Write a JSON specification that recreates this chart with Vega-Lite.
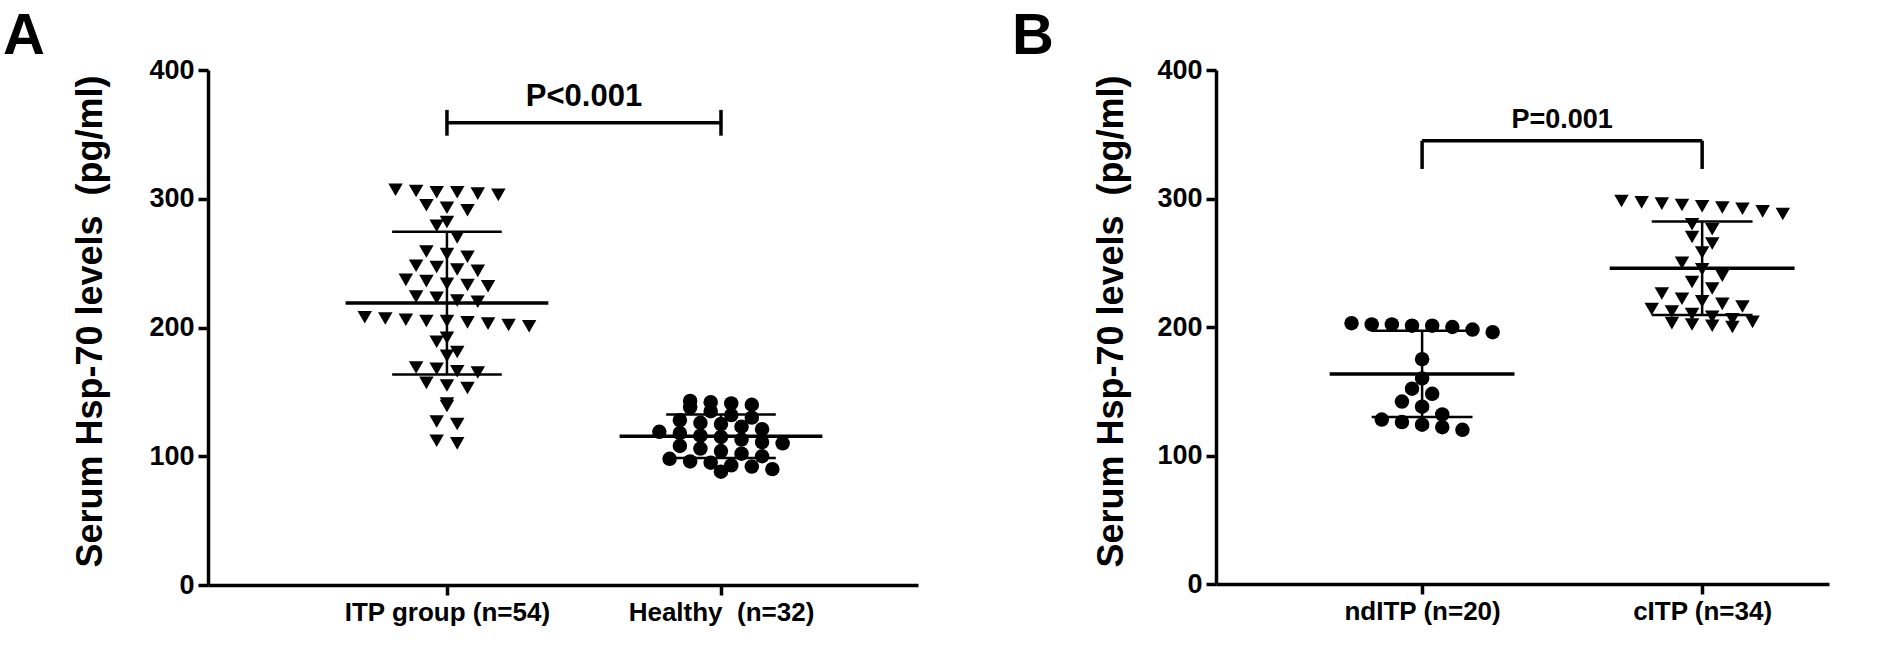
{
  "$schema": "https://vega.github.io/schema/vega-lite/v6.json",
  "background": "white",
  "padding": {"left": 2, "top": 8, "right": 4, "bottom": 4},
  "spacing": 93,
  "resolve": {"scale": {"shape": "independent"}},
  "config": {
    "font": "Liberation Sans",
    "view": {"stroke": null},
    "axis": {
      "grid": false,
      "domainColor": "black",
      "domainWidth": 3.5,
      "tickColor": "black",
      "tickWidth": 3.5,
      "tickSize": 10,
      "labelFont": "Liberation Sans",
      "labelFontSize": 27,
      "labelFontWeight": "bold",
      "labelColor": "black",
      "labelPadding": 4,
      "labelFlush": false,
      "labelOverlap": false,
      "labelLimit": 0,
      "titleFont": "Liberation Sans",
      "titleFontSize": 36,
      "titleFontWeight": "bold",
      "titleColor": "black"
    },
    "axisX": {"labelFontSize": 26}
  },
  "datasets": {
    "A": [
      {"group": "ITP group (n=54)", "value": 307}, {"group": "ITP group (n=54)", "value": 306}, {"group": "ITP group (n=54)", "value": 305},
      {"group": "ITP group (n=54)", "value": 305}, {"group": "ITP group (n=54)", "value": 304}, {"group": "ITP group (n=54)", "value": 303},
      {"group": "ITP group (n=54)", "value": 295}, {"group": "ITP group (n=54)", "value": 293}, {"group": "ITP group (n=54)", "value": 291},
      {"group": "ITP group (n=54)", "value": 282}, {"group": "ITP group (n=54)", "value": 279}, {"group": "ITP group (n=54)", "value": 270},
      {"group": "ITP group (n=54)", "value": 259}, {"group": "ITP group (n=54)", "value": 257}, {"group": "ITP group (n=54)", "value": 255},
      {"group": "ITP group (n=54)", "value": 248}, {"group": "ITP group (n=54)", "value": 247}, {"group": "ITP group (n=54)", "value": 245},
      {"group": "ITP group (n=54)", "value": 244}, {"group": "ITP group (n=54)", "value": 237}, {"group": "ITP group (n=54)", "value": 236},
      {"group": "ITP group (n=54)", "value": 234}, {"group": "ITP group (n=54)", "value": 233}, {"group": "ITP group (n=54)", "value": 232},
      {"group": "ITP group (n=54)", "value": 224}, {"group": "ITP group (n=54)", "value": 223}, {"group": "ITP group (n=54)", "value": 221},
      {"group": "ITP group (n=54)", "value": 220}, {"group": "ITP group (n=54)", "value": 208}, {"group": "ITP group (n=54)", "value": 207},
      {"group": "ITP group (n=54)", "value": 206}, {"group": "ITP group (n=54)", "value": 205}, {"group": "ITP group (n=54)", "value": 205},
      {"group": "ITP group (n=54)", "value": 204}, {"group": "ITP group (n=54)", "value": 203}, {"group": "ITP group (n=54)", "value": 202},
      {"group": "ITP group (n=54)", "value": 201}, {"group": "ITP group (n=54)", "value": 192}, {"group": "ITP group (n=54)", "value": 189},
      {"group": "ITP group (n=54)", "value": 181}, {"group": "ITP group (n=54)", "value": 178}, {"group": "ITP group (n=54)", "value": 169},
      {"group": "ITP group (n=54)", "value": 168}, {"group": "ITP group (n=54)", "value": 166}, {"group": "ITP group (n=54)", "value": 165},
      {"group": "ITP group (n=54)", "value": 157}, {"group": "ITP group (n=54)", "value": 155}, {"group": "ITP group (n=54)", "value": 153},
      {"group": "ITP group (n=54)", "value": 141}, {"group": "ITP group (n=54)", "value": 139}, {"group": "ITP group (n=54)", "value": 127},
      {"group": "ITP group (n=54)", "value": 125}, {"group": "ITP group (n=54)", "value": 112}, {"group": "ITP group (n=54)", "value": 110},
      {"group": "Healthy\u00a0 (n=32)", "value": 143}, {"group": "Healthy\u00a0 (n=32)", "value": 142}, {"group": "Healthy\u00a0 (n=32)", "value": 141},
      {"group": "Healthy\u00a0 (n=32)", "value": 140}, {"group": "Healthy\u00a0 (n=32)", "value": 138}, {"group": "Healthy\u00a0 (n=32)", "value": 135},
      {"group": "Healthy\u00a0 (n=32)", "value": 132}, {"group": "Healthy\u00a0 (n=32)", "value": 130}, {"group": "Healthy\u00a0 (n=32)", "value": 128},
      {"group": "Healthy\u00a0 (n=32)", "value": 126}, {"group": "Healthy\u00a0 (n=32)", "value": 125}, {"group": "Healthy\u00a0 (n=32)", "value": 123},
      {"group": "Healthy\u00a0 (n=32)", "value": 121}, {"group": "Healthy\u00a0 (n=32)", "value": 119}, {"group": "Healthy\u00a0 (n=32)", "value": 118},
      {"group": "Healthy\u00a0 (n=32)", "value": 116}, {"group": "Healthy\u00a0 (n=32)", "value": 115}, {"group": "Healthy\u00a0 (n=32)", "value": 113},
      {"group": "Healthy\u00a0 (n=32)", "value": 111}, {"group": "Healthy\u00a0 (n=32)", "value": 110}, {"group": "Healthy\u00a0 (n=32)", "value": 108},
      {"group": "Healthy\u00a0 (n=32)", "value": 106}, {"group": "Healthy\u00a0 (n=32)", "value": 104}, {"group": "Healthy\u00a0 (n=32)", "value": 102},
      {"group": "Healthy\u00a0 (n=32)", "value": 100}, {"group": "Healthy\u00a0 (n=32)", "value": 98}, {"group": "Healthy\u00a0 (n=32)", "value": 96},
      {"group": "Healthy\u00a0 (n=32)", "value": 95}, {"group": "Healthy\u00a0 (n=32)", "value": 93}, {"group": "Healthy\u00a0 (n=32)", "value": 92},
      {"group": "Healthy\u00a0 (n=32)", "value": 90}, {"group": "Healthy\u00a0 (n=32)", "value": 88}
    ],
    "B": [
      {"group": "ndITP (n=20)", "value": 203}, {"group": "ndITP (n=20)", "value": 202}, {"group": "ndITP (n=20)", "value": 202},
      {"group": "ndITP (n=20)", "value": 201}, {"group": "ndITP (n=20)", "value": 201}, {"group": "ndITP (n=20)", "value": 200},
      {"group": "ndITP (n=20)", "value": 198}, {"group": "ndITP (n=20)", "value": 196}, {"group": "ndITP (n=20)", "value": 175},
      {"group": "ndITP (n=20)", "value": 160}, {"group": "ndITP (n=20)", "value": 152}, {"group": "ndITP (n=20)", "value": 148},
      {"group": "ndITP (n=20)", "value": 142}, {"group": "ndITP (n=20)", "value": 138}, {"group": "ndITP (n=20)", "value": 132},
      {"group": "ndITP (n=20)", "value": 128}, {"group": "ndITP (n=20)", "value": 126}, {"group": "ndITP (n=20)", "value": 124},
      {"group": "ndITP (n=20)", "value": 122}, {"group": "ndITP (n=20)", "value": 120},
      {"group": "cITP (n=34)", "value": 298}, {"group": "cITP (n=34)", "value": 297}, {"group": "cITP (n=34)", "value": 296},
      {"group": "cITP (n=34)", "value": 295}, {"group": "cITP (n=34)", "value": 294}, {"group": "cITP (n=34)", "value": 293},
      {"group": "cITP (n=34)", "value": 292}, {"group": "cITP (n=34)", "value": 290}, {"group": "cITP (n=34)", "value": 288},
      {"group": "cITP (n=34)", "value": 280}, {"group": "cITP (n=34)", "value": 276}, {"group": "cITP (n=34)", "value": 270},
      {"group": "cITP (n=34)", "value": 265}, {"group": "cITP (n=34)", "value": 258}, {"group": "cITP (n=34)", "value": 250},
      {"group": "cITP (n=34)", "value": 245}, {"group": "cITP (n=34)", "value": 240}, {"group": "cITP (n=34)", "value": 235},
      {"group": "cITP (n=34)", "value": 230}, {"group": "cITP (n=34)", "value": 226}, {"group": "cITP (n=34)", "value": 222},
      {"group": "cITP (n=34)", "value": 220}, {"group": "cITP (n=34)", "value": 218}, {"group": "cITP (n=34)", "value": 216},
      {"group": "cITP (n=34)", "value": 214}, {"group": "cITP (n=34)", "value": 212}, {"group": "cITP (n=34)", "value": 210},
      {"group": "cITP (n=34)", "value": 208}, {"group": "cITP (n=34)", "value": 206}, {"group": "cITP (n=34)", "value": 204},
      {"group": "cITP (n=34)", "value": 203}, {"group": "cITP (n=34)", "value": 202}, {"group": "cITP (n=34)", "value": 201},
      {"group": "cITP (n=34)", "value": 200}
    ]
  },
  "hconcat": [
    {
      "title": {"text": "A", "anchor": "start", "frame": "bounds", "fontSize": 58, "fontWeight": "bold", "font": "Liberation Sans", "color": "black", "dx": -70, "offset": -10},
      "width": 710,
      "height": 515,
      "data": {"name": "A"},
      "layer": [
        {
          "transform": [
            {"calculate": "datum.group === 'ITP group (n=54)' ? 1 : 2", "as": "gx"},
            {"bin": {"step": 10, "anchor": 0, "extent": [0, 410]}, "field": "value", "as": "vb"},
            {"window": [{"op": "row_number", "as": "idx"}, {"op": "count", "as": "n"}], "groupby": ["group", "vb"], "sort": [{"field": "value", "order": "descending"}], "frame": [null, null]},
            {"calculate": "datum.gx + (datum.idx - (datum.n + 1) / 2) * 0.075", "as": "xpos"}
          ],
          "mark": {"type": "point", "filled": true, "color": "black", "opacity": 1, "size": 210},
          "encoding": {
            "x": {"field": "xpos", "type": "quantitative", "scale": {"domain": [0.128, 2.719], "nice": false, "zero": false},
              "axis": {"values": [1, 2], "title": null, "labelExpr": "datum.value == 1 ? 'ITP group (n=54)' : 'Healthy\u00a0 (n=32)'"}},
            "y": {"field": "value", "type": "quantitative", "scale": {"domain": [0, 400], "nice": false},
              "axis": {"values": [0, 100, 200, 300, 400], "title": "Serum Hsp-70 levels\u00a0 (pg/ml)", "titlePadding": 39, "titleY": 251}},
            "shape": {"field": "group", "type": "nominal", "scale": {"domain": ["ITP group (n=54)", "Healthy\u00a0 (n=32)"], "range": ["triangle-down", "circle"]}, "legend": null}
          }
        },
        {
          "transform": [
            {"calculate": "datum.group === 'ITP group (n=54)' ? 1 : 2", "as": "gx"},
            {"aggregate": [{"op": "mean", "field": "value", "as": "m"}, {"op": "stdev", "field": "value", "as": "sd"}], "groupby": ["gx"]},
            {"calculate": "datum.m - datum.sd", "as": "lo"},
            {"calculate": "datum.m + datum.sd", "as": "hi"},
            {"calculate": "datum.gx - 0.37", "as": "ml"},
            {"calculate": "datum.gx + 0.37", "as": "mr"},
            {"calculate": "datum.gx - 0.2", "as": "cl"},
            {"calculate": "datum.gx + 0.2", "as": "cr"}
          ],
          "layer": [
            {"mark": {"type": "rule", "color": "black", "strokeWidth": 3.5},
              "encoding": {"x": {"field": "ml", "type": "quantitative"}, "x2": {"field": "mr"}, "y": {"field": "m", "type": "quantitative"}}},
            {"mark": {"type": "rule", "color": "black", "strokeWidth": 2.5},
              "encoding": {"x": {"field": "gx", "type": "quantitative"}, "y": {"field": "lo", "type": "quantitative"}, "y2": {"field": "hi"}}},
            {"mark": {"type": "rule", "color": "black", "strokeWidth": 2.5},
              "encoding": {"x": {"field": "cl", "type": "quantitative"}, "x2": {"field": "cr"}, "y": {"field": "hi", "type": "quantitative"}}},
            {"mark": {"type": "rule", "color": "black", "strokeWidth": 2.5},
              "encoding": {"x": {"field": "cl", "type": "quantitative"}, "x2": {"field": "cr"}, "y": {"field": "lo", "type": "quantitative"}}}
          ]
        },
        {
          "data": {"values": [{}]},
          "layer": [
            {"mark": {"type": "rule", "color": "black", "strokeWidth": 3.5},
              "encoding": {"x": {"datum": 1, "type": "quantitative"}, "x2": {"datum": 2}, "y": {"datum": 359, "type": "quantitative"}}},
            {"mark": {"type": "rule", "color": "black", "strokeWidth": 3.5},
              "encoding": {"x": {"datum": 1, "type": "quantitative"}, "y": {"datum": 349, "type": "quantitative"}, "y2": {"datum": 369}}},
            {"mark": {"type": "rule", "color": "black", "strokeWidth": 3.5},
              "encoding": {"x": {"datum": 2, "type": "quantitative"}, "y": {"datum": 349, "type": "quantitative"}, "y2": {"datum": 369}}},
            {"mark": {"type": "text", "text": "P<0.001", "fontSize": 31, "fontWeight": "bold", "font": "Liberation Sans", "color": "black", "baseline": "middle", "align": "center"},
              "encoding": {"x": {"datum": 1.5, "type": "quantitative"}, "y": {"datum": 379, "type": "quantitative"}}}
          ]
        }
      ]
    },
    {
      "title": {"text": "B", "anchor": "start", "frame": "bounds", "fontSize": 58, "fontWeight": "bold", "font": "Liberation Sans", "color": "black", "dx": -82, "offset": -10},
      "width": 613,
      "height": 514,
      "data": {"name": "B"},
      "layer": [
        {
          "transform": [
            {"calculate": "datum.group === 'ndITP (n=20)' ? 1 : 2", "as": "gx"},
            {"bin": {"step": 12, "anchor": 0, "extent": [0, 408]}, "field": "value", "as": "vb"},
            {"window": [{"op": "row_number", "as": "idx"}, {"op": "count", "as": "n"}], "groupby": ["group", "vb"], "sort": [{"field": "value", "order": "descending"}], "frame": [null, null]},
            {"calculate": "datum.gx + (datum.idx - (datum.n + 1) / 2) * 0.072", "as": "xpos"}
          ],
          "mark": {"type": "point", "filled": true, "color": "black", "opacity": 1, "size": 210},
          "encoding": {
            "x": {"field": "xpos", "type": "quantitative", "scale": {"domain": [0.264, 2.453], "nice": false, "zero": false},
              "axis": {"values": [1, 2], "title": null, "labelExpr": "datum.value == 1 ? 'ndITP (n=20)' : 'cITP (n=34)'"}},
            "y": {"field": "value", "type": "quantitative", "scale": {"domain": [0, 400], "nice": false},
              "axis": {"values": [0, 100, 200, 300, 400], "title": "Serum Hsp-70 levels\u00a0 (pg/ml)", "titlePadding": 26, "titleY": 251}},
            "shape": {"field": "group", "type": "nominal", "scale": {"domain": ["ndITP (n=20)", "cITP (n=34)"], "range": ["circle", "triangle-down"]}, "legend": null}
          }
        },
        {
          "transform": [
            {"calculate": "datum.group === 'ndITP (n=20)' ? 1 : 2", "as": "gx"},
            {"aggregate": [{"op": "mean", "field": "value", "as": "m"}, {"op": "stdev", "field": "value", "as": "sd"}], "groupby": ["gx"]},
            {"calculate": "datum.m - datum.sd", "as": "lo"},
            {"calculate": "datum.m + datum.sd", "as": "hi"},
            {"calculate": "datum.gx - 0.33", "as": "ml"},
            {"calculate": "datum.gx + 0.33", "as": "mr"},
            {"calculate": "datum.gx - 0.18", "as": "cl"},
            {"calculate": "datum.gx + 0.18", "as": "cr"}
          ],
          "layer": [
            {"mark": {"type": "rule", "color": "black", "strokeWidth": 3.5},
              "encoding": {"x": {"field": "ml", "type": "quantitative"}, "x2": {"field": "mr"}, "y": {"field": "m", "type": "quantitative"}}},
            {"mark": {"type": "rule", "color": "black", "strokeWidth": 2.5},
              "encoding": {"x": {"field": "gx", "type": "quantitative"}, "y": {"field": "lo", "type": "quantitative"}, "y2": {"field": "hi"}}},
            {"mark": {"type": "rule", "color": "black", "strokeWidth": 2.5},
              "encoding": {"x": {"field": "cl", "type": "quantitative"}, "x2": {"field": "cr"}, "y": {"field": "hi", "type": "quantitative"}}},
            {"mark": {"type": "rule", "color": "black", "strokeWidth": 2.5},
              "encoding": {"x": {"field": "cl", "type": "quantitative"}, "x2": {"field": "cr"}, "y": {"field": "lo", "type": "quantitative"}}}
          ]
        },
        {
          "data": {"values": [{}]},
          "layer": [
            {"mark": {"type": "rule", "color": "black", "strokeWidth": 3.5},
              "encoding": {"x": {"datum": 1, "type": "quantitative"}, "x2": {"datum": 2}, "y": {"datum": 345, "type": "quantitative"}}},
            {"mark": {"type": "rule", "color": "black", "strokeWidth": 3.5},
              "encoding": {"x": {"datum": 1, "type": "quantitative"}, "y": {"datum": 323, "type": "quantitative"}, "y2": {"datum": 345}}},
            {"mark": {"type": "rule", "color": "black", "strokeWidth": 3.5},
              "encoding": {"x": {"datum": 2, "type": "quantitative"}, "y": {"datum": 323, "type": "quantitative"}, "y2": {"datum": 345}}},
            {"mark": {"type": "text", "text": "P=0.001", "fontSize": 27, "fontWeight": "bold", "font": "Liberation Sans", "color": "black", "baseline": "middle", "align": "center"},
              "encoding": {"x": {"datum": 1.5, "type": "quantitative"}, "y": {"datum": 361, "type": "quantitative"}}}
          ]
        }
      ]
    }
  ]
}
